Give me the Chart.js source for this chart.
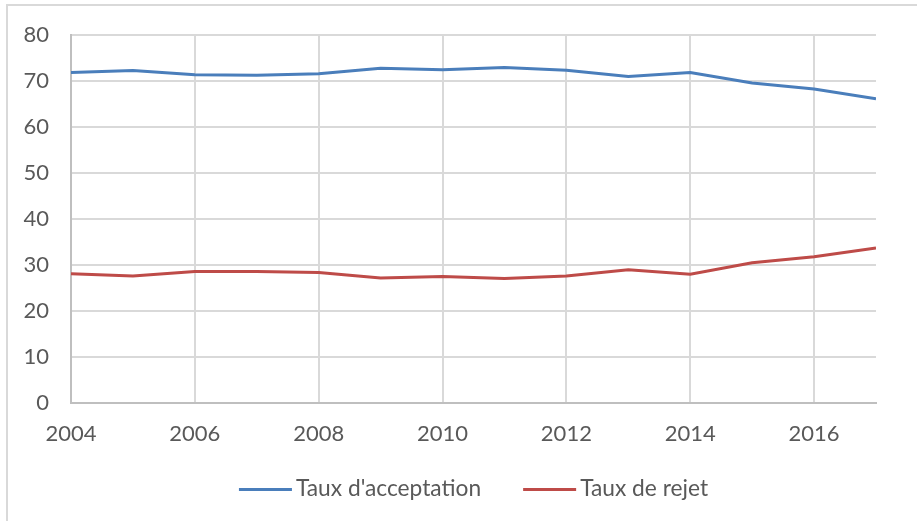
<!DOCTYPE html>
<html>
<head>
<meta charset="utf-8">
<script src="https://cdn.jsdelivr.net/npm/chart.js@4/dist/chart.umd.min.js"></script>
<style>
  html, body { margin: 0; padding: 0; background: #fff; }
  #wrap { position: relative; width: 917px; height: 521px; overflow: hidden; }
  #frame { position: absolute; left: 6px; top: 4px; width: 1000px; height: 600px;
           border-left: 2px solid #d9d9d9; border-top: 2px solid #d9d9d9; box-sizing: border-box; }
  canvas { position: absolute; left: 0; top: 0; }
</style>
</head>
<body>
<div id="wrap">
  <div id="frame"></div>
  <canvas id="c" width="917" height="521"></canvas>
</div>
<script>
const years = [2004, 2005, 2006, 2007, 2008, 2009, 2010, 2011, 2012, 2013, 2014, 2015, 2016, 2017];
const tauxAcceptation = [71.9, 72.3, 71.4, 71.3, 71.6, 72.8, 72.5, 73.0, 72.4, 71.0, 71.9, 69.6, 68.3, 66.2];
const tauxRejet = [28.1, 27.6, 28.6, 28.6, 28.4, 27.2, 27.5, 27.1, 27.6, 29.0, 28.0, 30.5, 31.8, 33.7];
const xTickLabels = [2004, 2006, 2008, 2010, 2012, 2014, 2016];
const yTickLabels = [0, 10, 20, 30, 40, 50, 60, 70, 80];
const seriesNames = ["Taux d'acceptation", "Taux de rejet"];

const FONT = "Lato, 'Open Sans', sans-serif";
const TXT = '#595959';

// Legend drawn under the plot, centred on the plot area (as in the source chart)
const bottomLegend = {
  id: 'bottomLegend',
  afterDraw(chart) {
    const ctx = chart.ctx;
    const ca = chart.chartArea;
    const lineLen = 53, gapText = 4, gapItem = 42;
    ctx.save();
    ctx.font = '22.75px ' + FONT;
    const items = chart.data.datasets.map(ds => ({
      text: ds.label, color: ds.borderColor, w: ctx.measureText(ds.label).width
    }));
    const total = items.reduce((s, it) => s + lineLen + gapText + it.w, 0) + gapItem * (items.length - 1);
    let x = (ca.left + ca.right) / 2 - total / 2;
    const y = ca.bottom + 85.5;
    items.forEach(it => {
      ctx.strokeStyle = it.color;
      ctx.lineWidth = 3;
      ctx.beginPath();
      ctx.moveTo(x, y + 1);
      ctx.lineTo(x + lineLen, y + 1);
      ctx.stroke();
      x += lineLen + gapText;
      ctx.fillStyle = TXT;
      ctx.textBaseline = 'middle';
      ctx.textAlign = 'left';
      ctx.fillText(it.text, x, y);
      x += it.w + gapItem;
    });
    ctx.restore();
  }
};

new Chart(document.getElementById('c'), {
  type: 'line',
  data: {
    datasets: [
      { label: seriesNames[0], data: years.map((y, i) => ({x: y, y: tauxAcceptation[i]})),
        borderColor: '#4a7ebb', backgroundColor: '#4a7ebb', borderWidth: 3, pointRadius: 0, tension: 0, fill: false },
      { label: seriesNames[1], data: years.map((y, i) => ({x: y, y: tauxRejet[i]})),
        borderColor: '#be4b48', backgroundColor: '#be4b48', borderWidth: 3, pointRadius: 0, tension: 0, fill: false }
    ]
  },
  options: {
    responsive: false,
    animation: false,
    events: [],
    layout: { padding: { left: 0, right: 41, top: 33, bottom: 70.5 } },
    plugins: {
      tooltip: { enabled: false },
      legend: { display: false }
    },
    scales: {
      x: {
        type: 'linear', min: 2004, max: 2017,
        afterBuildTicks: s => { s.ticks = xTickLabels.map(v => ({value: v})); },
        afterFit: s => { s.height = 47.5; },
        ticks: { color: TXT, font: { family: FONT, size: 22 }, padding: 18, callback: v => String(v), maxRotation: 0, autoSkip: false },
        grid: { color: '#d9d9d9', lineWidth: 2, drawTicks: false },
        border: { color: '#bfbfbf', width: 2 }
      },
      y: {
        min: 0, max: 80,
        afterBuildTicks: s => { s.ticks = yTickLabels.map(v => ({value: v})); },
        afterFit: s => { s.width = 71; },
        ticks: { color: TXT, font: { family: FONT, size: 22 }, padding: 22 },
        grid: { color: '#d9d9d9', lineWidth: 2, drawTicks: false },
        border: { color: '#bfbfbf', width: 2 }
      }
    }
  },
  plugins: [bottomLegend]
});
</script>
</body>
</html>
